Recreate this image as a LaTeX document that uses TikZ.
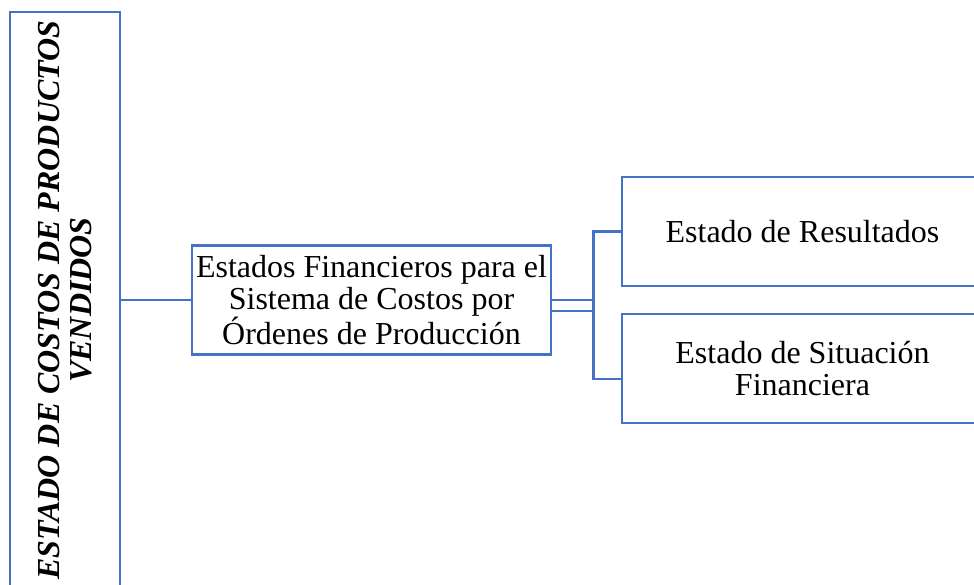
\documentclass[tikz,border=0pt]{standalone}
\usepackage{fontspec}
\setmainfont{Liberation Serif}
\usepackage{tikz}
\usetikzlibrary{calc}
\definecolor{azulcaja}{RGB}{68,114,196}

\begin{document}
\begin{tikzpicture}[x=1pt,y=-1pt,
		caja/.style={draw=azulcaja,line width=2.6pt,inner sep=0pt,align=center,
			font=\fontsize{32}{32.5}\selectfont},
		conector/.style={draw=azulcaja,line width=2.6pt}]
			\clip (0,0) rectangle (974,585);
			\node[caja,rotate=90,minimum width=576pt,minimum height=110pt,
				font=\fontsize{32}{32.5}\selectfont\bfseries\itshape] (ecpv) at (65,300)
				{ESTADO DE COSTOS DE PRODUCTOS\\VENDIDOS};
			\node[caja,minimum width=359pt,minimum height=109pt] (efin) at (371.5,300)
				{Estados Financieros para el\\Sistema de Costos por\\Órdenes de Producción};
			\node[caja,minimum width=361pt,minimum height=109pt] (eres) at (802.5,231.5)
				{Estado de Resultados};
			\node[caja,minimum width=361pt,minimum height=109pt] (esit) at (802.5,368.5)
				{Estado de Situación\\Financiera};
			\draw[conector] (ecpv.south) -- (efin.west);
			\draw[conector] ([yshift=-11pt]efin.east) -- ++(41,0) |- (eres.west);
			\draw[conector] (efin.east) -- ++(41,0) |- ([yshift=-10.5pt]esit.west);
		\end{tikzpicture}
\end{document}
